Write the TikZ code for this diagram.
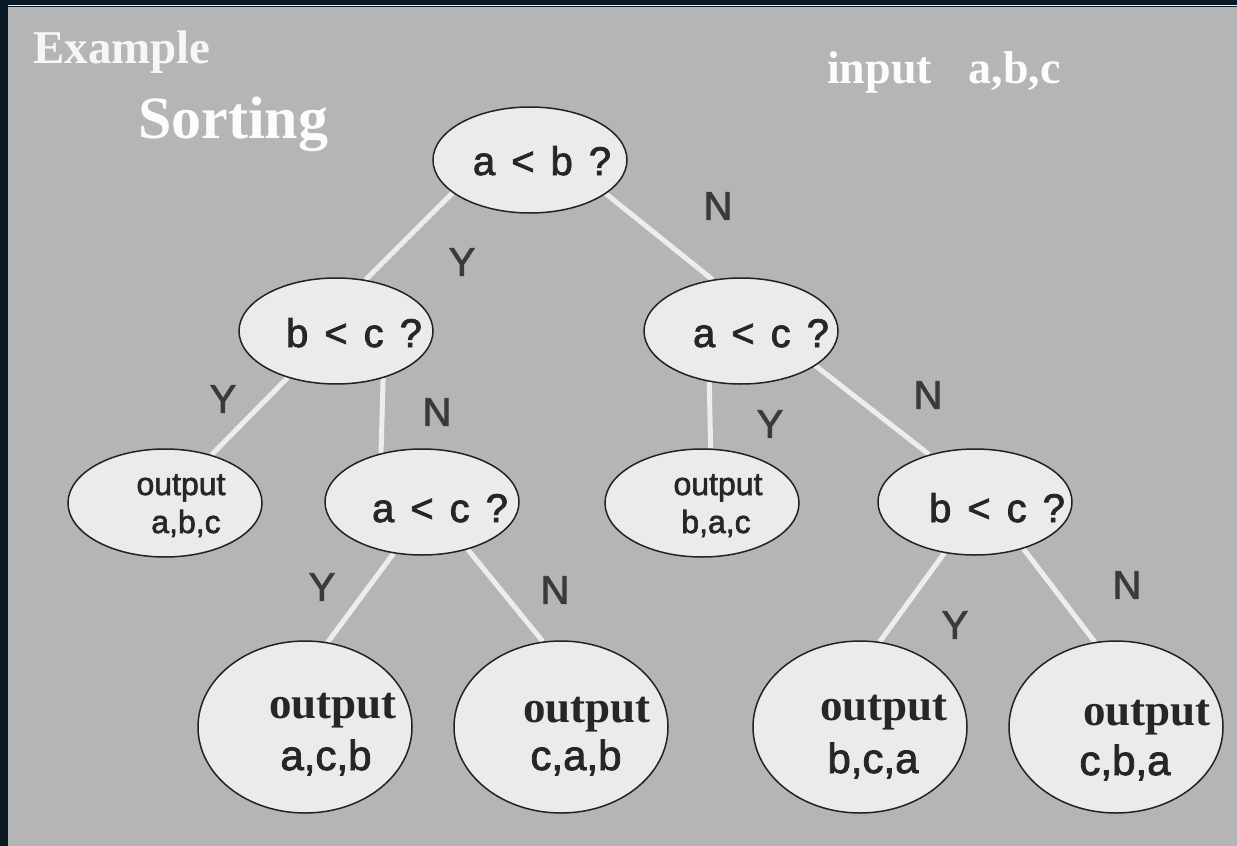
\documentclass[tikz,border=0pt]{standalone}
\usepackage{fontspec}
\setmainfont{Liberation Serif}
\setsansfont{Liberation Sans}[FakeBold=2]
\usetikzlibrary{shapes.geometric,backgrounds}

\definecolor{frame}{HTML}{0A1923}
\definecolor{panel}{HTML}{B5B5B5}
\definecolor{oval}{HTML}{EBEBEB}
\definecolor{rim}{HTML}{222222}
\definecolor{branch}{HTML}{EDEDED}
\definecolor{ink}{HTML}{262626}
\definecolor{ynink}{HTML}{3A3A3A}

% font size in points, one point per pixel
\newcommand{\px}[1]{\fontsize{#1}{#1}\selectfont}

\begin{document}
\begin{tikzpicture}[x=1pt,y=-1pt,
  q/.style={ellipse,draw=rim,line width=1.5pt,fill=oval,inner sep=0pt,minimum width=194pt,minimum height=106pt},
  res/.style={q,minimum height=108pt},
  leaf/.style={q,minimum width=214pt,minimum height=172pt},
  qtxt/.style={anchor=base,text=ink,font=\sffamily\px{40},execute at begin node={\spaceskip=16pt\relax}},
  stxt/.style={anchor=base,text=ink,font=\sffamily\px{32}},
  ltop/.style={anchor=base,text=ink,font=\bfseries\px{45}},
  lbot/.style={anchor=base,text=ink,font=\sffamily\px{42}},
  ans/.style={text=ynink,font=\sffamily\px{40},inner sep=0pt},
  head/.style={anchor=base west,inner sep=0pt,font=\bfseries},
  br/.style={draw=branch,line width=5pt}]
  \useasboundingbox (0,0) rectangle (1237,846);

  % titles
  \node[head,text=white!88!panel,font=\bfseries\px{47}] (ex) at (33,63) {Example};
  \node[head,text=white!96!panel,font=\bfseries\px{60}] (title) at (138,138) {Sorting};
  \node[head,text=white!96!panel,font=\bfseries\px{46}] (input) at (827,83) {input\hspace{0.8em}a,b,c};

  % decision tree
  \node[q] (root) at (530,160) {};
  \node[q] (bc1) at (336,331) {};
  \node[q] (ac2) at (741,331) {};
  \node[res] (abc) at (165,503) {};
  \node[q] (ac1) at (422,502) {};
  \node[res] (bac) at (702,503) {};
  \node[q] (bc2) at (975,502) {};
  \node[leaf] (acb) at (305,727) {};
  \node[leaf] (cab) at (561,727) {};
  \node[leaf] (bca) at (860,727) {};
  \node[leaf] (cba) at (1116,727) {};

  % questions
  \node[qtxt] (root-t) at (542,175) {a < b ?};
  \node[qtxt] (bc1-t) at (354,347) {b < c ?};
  \node[qtxt] (ac2-t) at (761,347) {a < c ?};
  \node[qtxt] (ac1-t) at (440,522) {a < c ?};
  \node[qtxt] (bc2-t) at (997,522) {b < c ?};

  % results
  \node[stxt] (abc-1) at (181,495) {output};
  \node[stxt] (abc-2) at (186,533) {a,b,c};
  \node[stxt] (bac-1) at (718,495) {output};
  \node[stxt] (bac-2) at (716,533) {b,a,c};
  \node[ltop] (acb-1) at (333,718) {output};
  \node[lbot] (acb-2) at (326,770) {a,c,b};
  \node[ltop] (cab-1) at (587,722) {output};
  \node[lbot] (cab-2) at (576,770) {c,a,b};
  \node[ltop] (bca-1) at (884,720) {output};
  \node[lbot] (bca-2) at (873,773) {b,c,a};
  \node[ltop] (cba-1) at (1147,725) {output};
  \node[lbot] (cba-2) at (1125,775) {c,b,a};

  % branch answers
  \node[ans] (y1) at (462,262) {Y};
  \node[ans] (n1) at (718,206) {N};
  \node[ans] (y2) at (223,399) {Y};
  \node[ans] (n2) at (437,412) {N};
  \node[ans] (y3) at (770,424) {Y};
  \node[ans] (n3) at (928,395) {N};
  \node[ans] (y4) at (322,587) {Y};
  \node[ans] (n4) at (555,590) {N};
  \node[ans] (y5) at (955,625) {Y};
  \node[ans] (n5) at (1127,585) {N};

  \begin{scope}[on background layer]
    \fill[frame] (0,0) rectangle (1237,846);
    \fill[panel] (8,7) rectangle (1237,846);
    \draw[white!80!panel,line width=1.5pt] (8,5.5) -- (1237,5.5);
    \draw[br] (root.203) -- (bc1.60);
    \draw[br] (root.336) -- (ac2.119);
    \draw[br] (bc1.224) -- (abc.46);
    \draw[br] (bc1.315) -- (ac1.130);
    \draw[br] (ac2.238) -- (bac.81);
    \draw[br] (ac2.335) -- (bc2.134);
    \draw[br] (ac1.241) -- (acb.75);
    \draw[br] (ac1.314) -- (cab.102);
    \draw[br] (bc2.239) -- (bca.77);
    \draw[br] (bc2.316) -- (cba.104);
  \end{scope}
\end{tikzpicture}
\end{document}
